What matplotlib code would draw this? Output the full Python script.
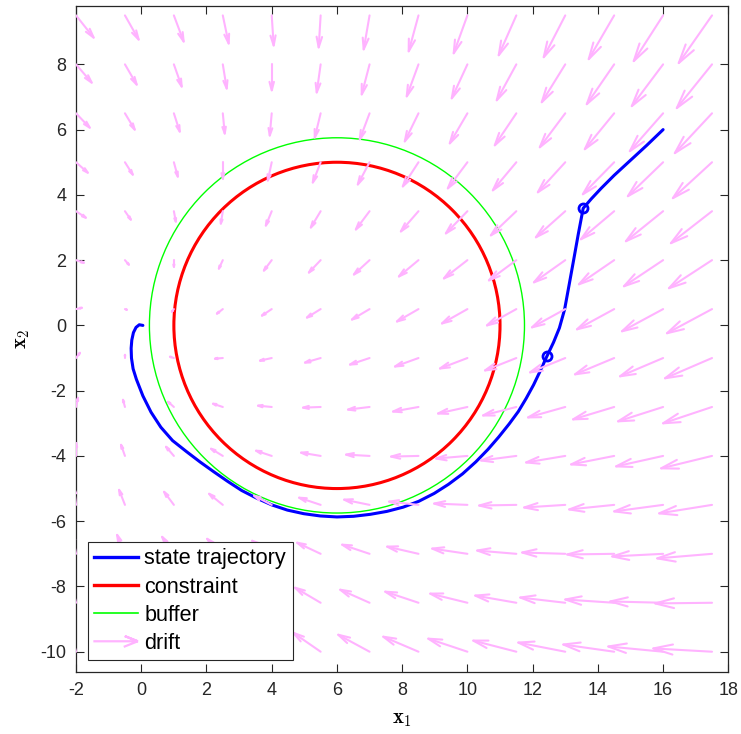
"""Safety-filtered state trajectory around a circular constraint, over the drift field."""

import matplotlib

matplotlib.use("Agg")
import matplotlib.pyplot as plt
from matplotlib.collections import LineCollection
from matplotlib.lines import Line2D
from matplotlib.patches import Circle

plt.rcParams["font.family"] = ["Liberation Sans", "DejaVu Sans"]
plt.rcParams["mathtext.fontset"] = "cm"
plt.rcParams["axes.unicode_minus"] = False

# state trajectory, from the start point (16, 6) to the origin
TRAJ_X = [16.0, 15.5, 15.0, 14.5, 14.1, 13.8, 13.55, 13.4, 13.26, 13.12, 12.98,
          12.82, 12.64, 12.44, 12.24, 12.03, 11.8, 11.56, 11.28, 10.96, 10.63,
          10.26, 9.85, 9.42, 8.98, 8.51, 8.03, 7.53, 7.02, 6.51, 6.0, 5.49,
          4.98, 4.48, 4.0, 3.53, 3.08, 2.65, 2.23, 1.81, 1.39, 0.96, 0.6, 0.3,
          0.05, -0.15, -0.25, -0.3, -0.31, -0.29, -0.24, -0.16, -0.06, 0.05]
TRAJ_Y = [6.0, 5.52, 5.06, 4.6, 4.2, 3.88, 3.59, 2.8, 2.02, 1.25, 0.49,
          -0.08, -0.52, -0.94, -1.38, -1.82, -2.24, -2.64, -3.02, -3.42, -3.8,
          -4.18, -4.55, -4.87, -5.15, -5.39, -5.57, -5.70, -5.79, -5.85, -5.87,
          -5.84, -5.77, -5.66, -5.50, -5.29, -5.06, -4.78, -4.49, -4.19, -3.87,
          -3.53, -3.12, -2.66, -2.16, -1.65, -1.33, -1.0, -0.7, -0.45, -0.22,
          -0.06, 0.02, 0.0]
# switching points marked with circles
MARK_X = [13.55, 12.44]
MARK_Y = [3.59, -0.94]

# constraint and buffer circles
CENTER = (6.0, 0.0)
R_CONSTRAINT = 5.0
R_BUFFER = 5.75

# drift field sampled on the grid (rows: Y_GRID, columns: X_GRID)
X_GRID = [-2, -0.5, 1, 2.5, 4, 5.5, 7, 8.5, 10, 11.5, 13, 14.5, 16, 17.5]
Y_GRID = [-10, -8.5, -7, -5.5, -4, -2.5, -1, 0.5, 2, 3.5, 5, 6.5, 8, 9.5]
DRIFT_U = [
    [-6, -9, -12, -15, -18, -21, -24, -27, -30, -33, -36, -39, -42, -45],
    [-4.5, -7.5, -10.5, -13.5, -16.5, -19.5, -22.5, -25.5, -28.5, -31.5, -34.5, -37.5, -40.5, -43.5],
    [-3, -6, -9, -12, -15, -18, -21, -24, -27, -30, -33, -36, -39, -42],
    [-1.5, -4.5, -7.5, -10.5, -13.5, -16.5, -19.5, -22.5, -25.5, -28.5, -31.5, -34.5, -37.5, -40.5],
    [0, -3, -6, -9, -12, -15, -18, -21, -24, -27, -30, -33, -36, -39],
    [1.5, -1.5, -4.5, -7.5, -10.5, -13.5, -16.5, -19.5, -22.5, -25.5, -28.5, -31.5, -34.5, -37.5],
    [3, 0, -3, -6, -9, -12, -15, -18, -21, -24, -27, -30, -33, -36],
    [4.5, 1.5, -1.5, -4.5, -7.5, -10.5, -13.5, -16.5, -19.5, -22.5, -25.5, -28.5, -31.5, -34.5],
    [6, 3, 0, -3, -6, -9, -12, -15, -18, -21, -24, -27, -30, -33],
    [7.5, 4.5, 1.5, -1.5, -4.5, -7.5, -10.5, -13.5, -16.5, -19.5, -22.5, -25.5, -28.5, -31.5],
    [9, 6, 3, 0, -3, -6, -9, -12, -15, -18, -21, -24, -27, -30],
    [10.5, 7.5, 4.5, 1.5, -1.5, -4.5, -7.5, -10.5, -13.5, -16.5, -19.5, -22.5, -25.5, -28.5],
    [12, 9, 6, 3, 0, -3, -6, -9, -12, -15, -18, -21, -24, -27],
    [13.5, 10.5, 7.5, 4.5, 1.5, -1.5, -4.5, -7.5, -10.5, -13.5, -16.5, -19.5, -22.5, -25.5],
]
DRIFT_V = [
    [22, 20.5, 19, 17.5, 16, 14.5, 13, 11.5, 10, 8.5, 7, 5.5, 4, 2.5],
    [19, 17.5, 16, 14.5, 13, 11.5, 10, 8.5, 7, 5.5, 4, 2.5, 1, -0.5],
    [16, 14.5, 13, 11.5, 10, 8.5, 7, 5.5, 4, 2.5, 1, -0.5, -2, -3.5],
    [13, 11.5, 10, 8.5, 7, 5.5, 4, 2.5, 1, -0.5, -2, -3.5, -5, -6.5],
    [10, 8.5, 7, 5.5, 4, 2.5, 1, -0.5, -2, -3.5, -5, -6.5, -8, -9.5],
    [7, 5.5, 4, 2.5, 1, -0.5, -2, -3.5, -5, -6.5, -8, -9.5, -11, -12.5],
    [4, 2.5, 1, -0.5, -2, -3.5, -5, -6.5, -8, -9.5, -11, -12.5, -14, -15.5],
    [1, -0.5, -2, -3.5, -5, -6.5, -8, -9.5, -11, -12.5, -14, -15.5, -17, -18.5],
    [-2, -3.5, -5, -6.5, -8, -9.5, -11, -12.5, -14, -15.5, -17, -18.5, -20, -21.5],
    [-5, -6.5, -8, -9.5, -11, -12.5, -14, -15.5, -17, -18.5, -20, -21.5, -23, -24.5],
    [-8, -9.5, -11, -12.5, -14, -15.5, -17, -18.5, -20, -21.5, -23, -24.5, -26, -27.5],
    [-11, -12.5, -14, -15.5, -17, -18.5, -20, -21.5, -23, -24.5, -26, -27.5, -29, -30.5],
    [-14, -15.5, -17, -18.5, -20, -21.5, -23, -24.5, -26, -27.5, -29, -30.5, -32, -33.5],
    [-17, -18.5, -20, -21.5, -23, -24.5, -26, -27.5, -29, -30.5, -32, -33.5, -35, -36.5],
]

XTICKS = list(range(-2, 19, 2))
YTICKS = list(range(-10, 9, 2))

PINK = (1.0, 0.7, 1.0)
ARROW_SCALE = 0.04          # data units per drift unit
HEAD_LEN, HEAD_WID = 0.33, 0.26   # MATLAB-like open arrow heads


def arrow_segments(x, y, u, v):
    """Shaft plus two head strokes, MATLAB quiver style."""
    tx, ty = x + u, y + v
    h1 = (tx - HEAD_LEN * (u + HEAD_WID * v), ty - HEAD_LEN * (v - HEAD_WID * u))
    h2 = (tx - HEAD_LEN * (u - HEAD_WID * v), ty - HEAD_LEN * (v + HEAD_WID * u))
    return [[(x, y), (tx, ty)], [h1, (tx, ty), h2]]


class HandlerArrow:
    """Legend entry drawn as an open-headed arrow."""

    def legend_artist(self, legend, orig_handle, fontsize, handlebox):
        x0, y0 = handlebox.xdescent, handlebox.ydescent
        w, h = handlebox.width, handlebox.height
        ym = y0 + h / 2
        hl, hw = 0.3 * w, 0.12 * w
        line = Line2D([x0, x0 + w, x0 + w - hl, x0 + w, x0 + w - hl],
                      [ym, ym, ym + hw, ym, ym - hw],
                      color=PINK, lw=1.6, solid_joinstyle="miter",
                      transform=handlebox.get_transform())
        handlebox.add_artist(line)
        return line


def main() -> None:
    fig = plt.figure(figsize=(7.41, 7.34), dpi=100)
    ax = fig.add_axes([0.1026, 0.0841, 0.8803, 0.9078])

    ax.plot(TRAJ_X, TRAJ_Y, color="blue", lw=2.2, zorder=2,
            solid_joinstyle="round", solid_capstyle="round")
    ax.plot(MARK_X, MARK_Y, "o", mfc="none", mec="blue", mew=2.0, ms=6.5, zorder=2)
    ax.add_patch(Circle(CENTER, R_CONSTRAINT, fill=False, ec="red", lw=2.2, zorder=2))
    ax.add_patch(Circle(CENTER, R_BUFFER, fill=False, ec=(0, 1, 0), lw=1.0, zorder=2))

    segs = []
    for j, y in enumerate(Y_GRID):
        for i, x in enumerate(X_GRID):
            segs += arrow_segments(x, y, DRIFT_U[j][i] * ARROW_SCALE,
                                   DRIFT_V[j][i] * ARROW_SCALE)
    drift = LineCollection(segs, colors=[PINK], linewidths=1.5, zorder=3,
                           capstyle="round", joinstyle="round")
    ax.add_collection(drift)

    ax.set_xlim(-2, 18)
    ax.set_ylim(-10.63, 9.79)
    ax.set_xticks(XTICKS)
    ax.set_yticks(YTICKS)
    ax.tick_params(direction="in", length=6, width=0.8, top=True, right=True,
                   labelsize=13, colors="0.15", pad=7)
    for sp in ax.spines.values():
        sp.set_color("0.15")
        sp.set_linewidth(0.9)

    ax.set_xlabel(r"$\mathbf{x}_\mathbf{1}$", fontsize=15, labelpad=8)
    ax.set_ylabel(r"$\mathbf{x}_\mathbf{2}$", fontsize=15, labelpad=6)

    handles = [
        Line2D([], [], color="blue", lw=2.4),
        Line2D([], [], color="red", lw=2.4),
        Line2D([], [], color=(0, 1, 0), lw=1.2),
        drift,
    ]
    labels = ["state trajectory", "constraint", "buffer", "drift"]
    leg = ax.legend(handles, labels, loc="lower left", fontsize=15.6,
                    handler_map={LineCollection: HandlerArrow()},
                    handlelength=2.0, handletextpad=0.3, labelspacing=0.33,
                    borderpad=0.3, borderaxespad=0.55, fancybox=False,
                    framealpha=1, edgecolor="0.15")
    leg.get_frame().set_linewidth(0.8)
    leg.set_zorder(5)

    fig.savefig("out.png", dpi=100)


if __name__ == "__main__":
    main()
